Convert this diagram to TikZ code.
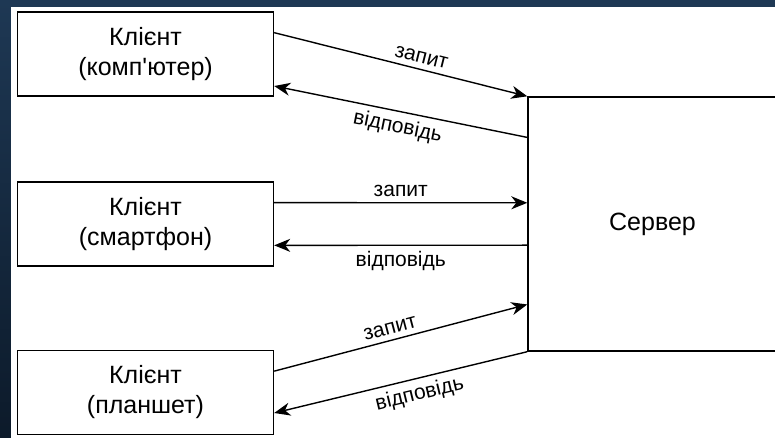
\documentclass[tikz,border=0pt]{standalone}
\usepackage{fontspec}
\newfontfamily\uafont{Liberation Sans}
\usetikzlibrary{arrows.meta,calc}
\definecolor{bgtop}{RGB}{30,56,84}
\definecolor{bgbottom}{RGB}{12,26,42}
\begin{document}
\begin{tikzpicture}[x=1pt,y=-1pt,
  box/.style={draw=black,line width=1.4pt,minimum width=256pt,minimum height=84pt,
    inner sep=0pt,align=center,font=\uafont\fontsize{25}{30}\selectfont},
  srv/.style={draw=black,line width=1.4pt,minimum width=249pt,minimum height=254pt,
    inner sep=0pt,font=\uafont\fontsize{25}{30}\selectfont},
  req/.style={line width=1.4pt,-{Stealth[length=16pt,width=13pt,inset=5pt]}},
  resp/.style={line width=1.4pt,{Stealth[length=16pt,width=13pt,inset=5pt]}-},
  lbl/.style={font=\uafont\fontsize{21}{25}\selectfont,sloped,inner sep=5.5pt}]

% page background and white sheet
\useasboundingbox (0,0) rectangle (775,438);
\shade[top color=bgtop,bottom color=bgbottom] (0,0) rectangle (775,438);
\fill[white] (11,7) rectangle (777,440);

% clients and server
\node[box] (c1) at (145.5,54) {Клієнт\\(комп'ютер)};
\node[box] (c2) at (145.5,224) {Клієнт\\(смартфон)};
\node[box] (c3) at (145.5,392.5) {Клієнт\\(планшет)};
\node[srv] (s) at (652.5,224) {Сервер};

% requests and responses
\draw[req] ($(c1.north east)!0.25!(c1.south east)$)
  -- node[lbl,above,pos=0.57]{запит} (s.north west);
\draw[resp] ($(c1.north east)!0.875!(c1.south east)$)
  -- node[lbl,below,pos=0.5]{відповідь} ($(s.north west)!0.161!(s.south west)$);

\draw[req] ($(c2.north east)!0.25!(c2.south east)$)
  -- node[lbl,above,pos=0.5]{запит} ($(s.north west)!0.417!(s.south west)$);
\draw[resp] ($(c2.north east)!0.75!(c2.south east)$)
  -- node[lbl,below,pos=0.5]{відповідь} ($(s.north west)!0.583!(s.south west)$);

\draw[req] ($(c3.north east)!0.25!(c3.south east)$)
  -- node[lbl,above,pos=0.47]{запит} ($(s.north west)!0.815!(s.south west)$);
\draw[resp] ($(c3.north east)!0.74!(c3.south east)$)
  -- node[lbl,below,pos=0.56]{відповідь} (s.south west);
\end{tikzpicture}
\end{document}
